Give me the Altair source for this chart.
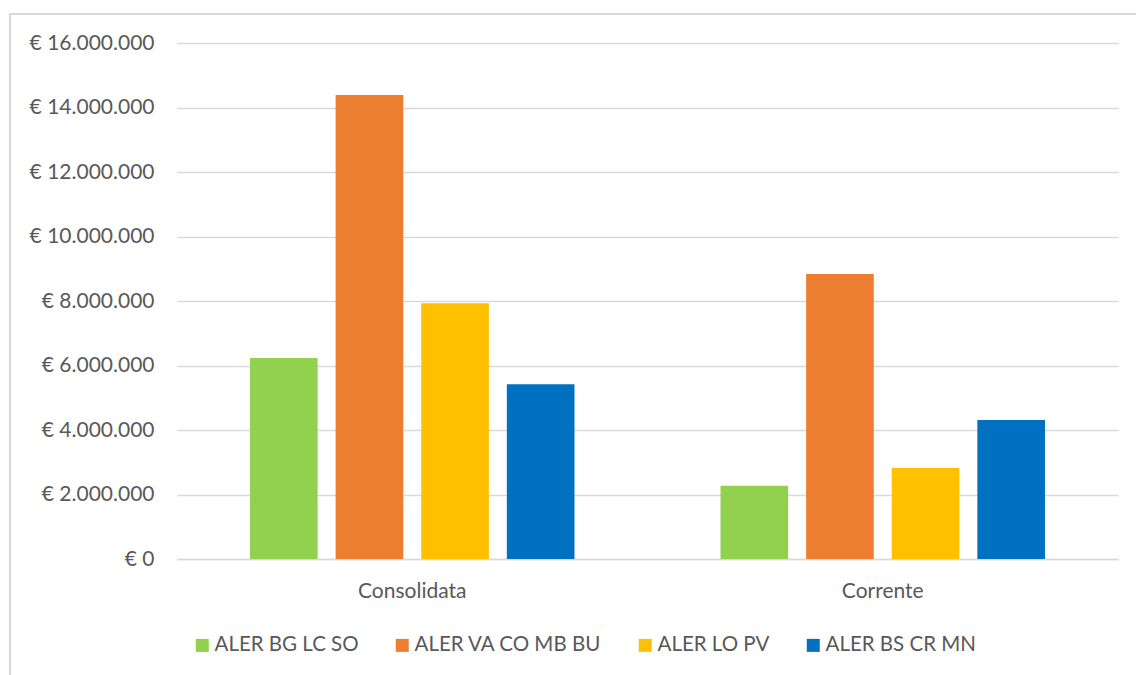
import altair as alt
import pandas as pd

categories = ["Consolidata", "Corrente"]
series = ["ALER BG LC SO", "ALER VA CO MB BU", "ALER LO PV", "ALER BS CR MN"]
consolidata = [6230000, 14390000, 7930000, 5420000]
corrente = [2270000, 8840000, 2820000, 4310000]
colors = ["#92D050", "#ED7D31", "#FFC000", "#0070C0"]
y_ticks = [0, 2000000, 4000000, 6000000, 8000000, 10000000, 12000000, 14000000, 16000000]

rows = []
for cat, vals in zip(categories, [consolidata, corrente]):
    for s, v in zip(series, vals):
        rows.append({"cat": cat, "series": s, "value": v})
df = pd.DataFrame(rows)

FONT = "Lato"
GRAY = "#595959"
GRID = "#D9D9D9"

bars = alt.Chart(df).mark_bar().encode(
    x=alt.X("cat:N", sort=categories,
            scale=alt.Scale(paddingInner=0, paddingOuter=0),
            axis=alt.Axis(title=None, labelAngle=0, ticks=False, domain=True,
                          domainColor=GRID, domainWidth=1.5, grid=False,
                          labelFont=FONT, labelFontSize=21, labelColor=GRAY,
                          labelPadding=21)),
    xOffset=alt.XOffset("series:N", sort=series,
                        scale=alt.Scale(paddingInner=0.21, paddingOuter=0.853)),
    y=alt.Y("value:Q", scale=alt.Scale(domain=[0, 16000000], nice=False),
            axis=alt.Axis(title=None, values=y_ticks, ticks=False, domain=False,
                          grid=True, gridColor=GRID, gridWidth=1.5,
                          labelFont=FONT, labelFontSize=21, labelColor=GRAY,
                          labelPadding=23,
                          labelExpr="'€ ' + replace(format(datum.value, ',.0f'), /,/g, '.')")),
    color=alt.Color("series:N", sort=series,
                    scale=alt.Scale(domain=series, range=colors),
                    legend=alt.Legend(title=None, orient="none", legendX=15, legendY=592,
                                      direction="horizontal", columns=4,
                                      symbolType="square", symbolSize=169,
                                      symbolStrokeWidth=0, labelFont=FONT,
                                      labelFontSize=20.5, labelColor=GRAY, labelLimit=400,
                                      labelOffset=2, columnPadding=33, padding=0)),
)

border = alt.Chart(pd.DataFrame({"a": [0]})).mark_rect(
    fill=None, stroke=GRID, strokeWidth=2
).encode(
    x=alt.value(-167), x2=alt.value(980), y=alt.value(-29), y2=alt.value(650)
)

chart = alt.layer(border, bars).properties(
    width=941, height=516,
    autosize=alt.AutoSizeParams(type="none"),
    padding={"left": 177, "top": 43, "right": 18, "bottom": 116},
).configure(background="white", view=alt.ViewConfig(stroke=None))

chart.save("out.html", embed_options={"renderer": "svg", "actions": False})
